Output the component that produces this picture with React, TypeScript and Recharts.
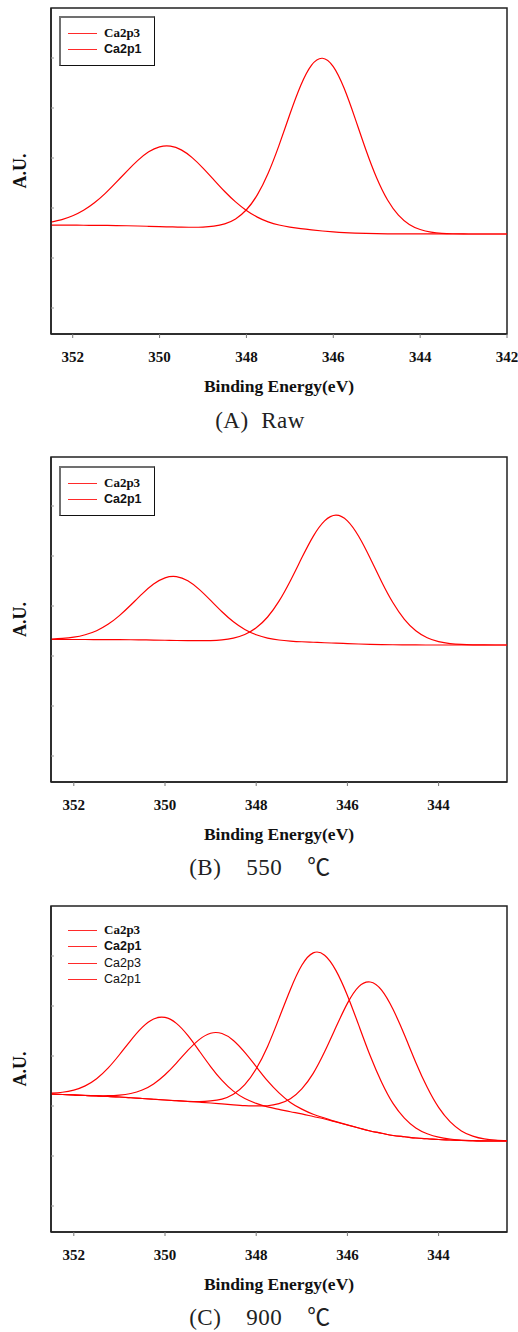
import React from "react";
import { LineChart, Line, XAxis, YAxis, Legend, ReferenceArea } from "recharts";

// binding energy grid (eV), left to right as plotted
const ENERGY_RAW = [
  352.5, 352.25, 352, 351.75, 351.5, 351.25, 351, 350.75, 350.5, 350.25, 350,
  349.75, 349.5, 349.25, 349, 348.75, 348.5, 348.25, 348, 347.75, 347.5,
  347.25, 347, 346.75, 346.5, 346.25, 346, 345.75, 345.5, 345.25, 345, 344.75,
  344.5, 344.25, 344, 343.75, 343.5, 343.25, 343, 342.75, 342.5, 342.25, 342,
];
const ENERGY_HEATED = [
  352.5, 352.25, 352, 351.75, 351.5, 351.25, 351, 350.75, 350.5, 350.25, 350,
  349.75, 349.5, 349.25, 349, 348.75, 348.5, 348.25, 348, 347.75, 347.5,
  347.25, 347, 346.75, 346.5, 346.25, 346, 345.75, 345.5, 345.25, 345, 344.75,
  344.5, 344.25, 344, 343.75, 343.5, 343.25, 343, 342.75, 342.5,
];

// (A) raw
const RAW_CA2P3 = [
  1657, 1657, 1656, 1655, 1653, 1651, 1649, 1645, 1640, 1634, 1628, 1622, 1616,
  1615, 1619, 1637, 1683, 1782, 1965, 2262, 2695, 3253, 3874, 4449, 4857, 4995,
  4827, 4393, 3797, 3165, 2600, 2160, 1858, 1672, 1570, 1518, 1494, 1485, 1481,
  1480, 1480, 1480, 1480,
];
const RAW_CA2P1 = [
  1719, 1768, 1844, 1954, 2104, 2292, 2511, 2739, 2953, 3124, 3224, 3238, 3162,
  3008, 2799, 2564, 2330, 2122, 1951, 1818, 1723, 1660, 1618, 1586, 1561, 1540,
  1522, 1507, 1497, 1491, 1487, 1484, 1483, 1482, 1482, 1481, 1480, 1480, 1480,
  1480, 1480, 1480, 1480,
];

// (B) 550 C
const T550_CA2P3 = [
  2330, 2330, 2330, 2330, 2329, 2328, 2327, 2325, 2322, 2319, 2315, 2310, 2307,
  2306, 2309, 2323, 2358, 2430, 2563, 2780, 3097, 3506, 3963, 4393, 4702, 4817,
  4703, 4390, 3955, 3486, 3064, 2734, 2505, 2365, 2287, 2248, 2231, 2224, 2221,
  2220, 2220,
];
const T550_CA2P1 = [
  2339, 2351, 2376, 2425, 2506, 2633, 2807, 3019, 3243, 3438, 3563, 3587, 3504,
  3332, 3112, 2885, 2685, 2532, 2426, 2359, 2320, 2299, 2285, 2275, 2265, 2257,
  2248, 2240, 2234, 2229, 2225, 2223, 2221, 2220, 2220, 2220, 2220, 2220, 2220,
  2220, 2220,
];

// (C) 900 C, two doublets
const T900_CA2P3_1 = [
  2240, 2230, 2220, 2210, 2200, 2190, 2180, 2165, 2150, 2135, 2120, 2107, 2095,
  2090, 2102, 2139, 2236, 2426, 2744, 3192, 3752, 4331, 4814, 5063, 5016, 4708,
  4211, 3612, 3005, 2476, 2052, 1759, 1561, 1445, 1376, 1340, 1318, 1308, 1301,
  1300, 1300,
];
const T900_CA2P1_1 = [
  2259, 2275, 2318, 2403, 2546, 2757, 3025, 3314, 3573, 3741, 3771, 3652, 3411,
  3103, 2789, 2511, 2297, 2149, 2053, 1982, 1933, 1885, 1842, 1790, 1740, 1680,
  1620, 1560, 1500, 1455, 1410, 1385, 1360, 1345, 1330, 1320, 1310, 1305, 1300,
  1300, 1300,
];
const T900_CA2P3_2 = [
  2240, 2230, 2220, 2210, 2200, 2190, 2180, 2165, 2150, 2135, 2120, 2105, 2090,
  2075, 2060, 2041, 2023, 2008, 2002, 2005, 2047, 2145, 2342, 2652, 3083, 3578,
  4052, 4387, 4480, 4318, 3934, 3425, 2872, 2373, 1971, 1687, 1502, 1397, 1341,
  1317, 1306,
];
const T900_CA2P1_2 = [
  2240, 2230, 2221, 2212, 2206, 2206, 2218, 2250, 2319, 2442, 2625, 2859, 3111,
  3328, 3455, 3449, 3310, 3072, 2788, 2502, 2262, 2072, 1938, 1835, 1759, 1687,
  1622, 1560, 1500, 1455, 1410, 1385, 1360, 1345, 1330, 1320, 1310, 1305, 1300,
  1300, 1300,
];

const X_TICKS_RAW = [352, 350, 348, 346, 344, 342];
const X_TICKS_HEATED = [352, 350, 348, 346, 344];
const Y_TICKS = [0, 1000, 2000, 3000, 4000, 5000];

const LEGEND_TWO = ["Ca2p3", "Ca2p1"];
const LEGEND_FOUR = ["Ca2p3", "Ca2p1", "Ca2p3", "Ca2p1"];
const CAPTIONS = ["(A)  Raw", "(B)    550    \u2103", "(C)    900    \u2103"];

const SERIF = '"Liberation Serif", "Times New Roman", serif';
const SANS = '"Liberation Sans", Arial, sans-serif';
const LABEL_FONTS = [
  { fontFamily: SERIF, fontWeight: 700, fontSize: 13 },
  { fontFamily: SANS, fontWeight: 700, fontSize: 12.5 },
  { fontFamily: SANS, fontWeight: 400, fontSize: 12.5 },
  { fontFamily: SANS, fontWeight: 400, fontSize: 12.5 },
];

function buildRows(energy: number[], series: number[][]) {
  return energy.map((e, i) => {
    const row: Record<string, number> = { e };
    series.forEach((s, k) => {
      row["s" + k] = s[i];
    });
    return row;
  });
}

const NoTick = () => null;

function LegendBox({ labels, boxed }: { labels: string[]; boxed: boolean }) {
  const box = boxed
    ? {
        width: 92.5,
        borderTop: "2px solid #707070",
        borderLeft: "2px solid #707070",
        borderRight: "1.5px solid #111",
        borderBottom: "1.5px solid #111",
        padding: "6.75px 0",
        background: "#fff",
      }
    : {};
  return (
    <div style={box}>
      {labels.map((l, i) => (
        <div key={i} style={{ height: 16.5, display: "flex", alignItems: "center" }}>
          <span
            style={{
              display: "inline-block",
              marginLeft: boxed ? 7 : 9,
              width: 29,
              height: 0,
              borderTop: "1.3px solid #ff2a2a",
            }}
          />
          <span
            style={{
              marginLeft: 7,
              lineHeight: "16.5px",
              color: "#111",
              ...LABEL_FONTS[i],
            }}
          >
            {l}
          </span>
        </div>
      ))}
    </div>
  );
}

type PanelProps = {
  top: number;
  height: number;
  energy: number[];
  series: number[][];
  xDomain: [number, number];
  xTicks: number[];
  yDomain: [number, number];
  legend: string[];
  boxed: boolean;
  legendTop: number;
  caption: string;
  captionY: number;
};

function Panel(p: PanelProps) {
  const rows = buildRows(p.energy, p.series);
  return (
    <>
      <div style={{ position: "absolute", left: 0, top: p.top }}>
        <LineChart
          width={518}
          height={p.height}
          data={rows}
          margin={{ top: 8, right: 11, bottom: 0, left: 0 }}
        >
          <XAxis
            dataKey="e"
            type="number"
            domain={p.xDomain}
            ticks={p.xTicks}
            interval={0}
            reversed
            allowDataOverflow
            height={66}
            tickSize={4}
            tickMargin={13}
            tick={{ fontSize: 15, fontFamily: SERIF, fontWeight: 700, fill: "#111" }}
            tickLine={{ stroke: "#777" }}
            axisLine={{ stroke: "#222", strokeWidth: 1.5 }}
            label={{
              value: "Binding Energy(eV)",
              position: "insideBottom",
              offset: 8.5,
              style: { fontSize: 17.5, fontFamily: SERIF, fontWeight: 700, fill: "#111" },
            }}
          />
          <YAxis
            type="number"
            domain={p.yDomain}
            ticks={Y_TICKS}
            interval={0}
            allowDataOverflow
            width={51}
            tickSize={-3}
            tick={NoTick}
            tickLine={{ stroke: "#999" }}
            axisLine={{ stroke: "#222", strokeWidth: 1.5 }}
            label={{
              value: "A.U.",
              angle: -90,
              position: "insideLeft",
              offset: 19.5,
              style: {
                textAnchor: "middle",
                fontSize: 18,
                fontFamily: SERIF,
                fontWeight: 700,
                fill: "#111",
              },
            }}
          />
          {p.series.map((_, k) => (
            <Line
              key={k}
              dataKey={"s" + k}
              type="natural"
              stroke="#ff0000"
              strokeWidth={1.2}
              dot={false}
              activeDot={false}
              isAnimationActive={false}
            />
          ))}
          <ReferenceArea
            x1={p.xDomain[0]}
            x2={p.xDomain[1]}
            y1={p.yDomain[0]}
            y2={p.yDomain[1]}
            fill="none"
            stroke="#222"
            strokeWidth={1.5}
          />
          <Legend
            layout="vertical"
            align="center"
            verticalAlign="middle"
            wrapperStyle={{ left: 59, top: p.legendTop }}
            content={() => <LegendBox labels={p.legend} boxed={p.boxed} />}
          />
        </LineChart>
      </div>
      <div
        style={{
          position: "absolute",
          left: 0,
          width: 520,
          top: p.captionY - 12,
          height: 24,
          lineHeight: "24px",
          textAlign: "center",
          whiteSpace: "pre",
          fontFamily: '"Liberation Serif", "Noto Sans CJK KR", serif',
          fontSize: 23,
          letterSpacing: 0.5,
          color: "#222",
        }}
      >
        {p.caption}
      </div>
    </>
  );
}

export default function App() {
  return (
    <div
      style={{
        position: "absolute",
        left: 0,
        top: 0,
        width: 518,
        height: 1332,
        background: "#fff",
        overflow: "hidden",
        fontFamily: SERIF,
      }}
    >
      <Panel
        top={0}
        height={400}
        energy={ENERGY_RAW}
        series={[RAW_CA2P3, RAW_CA2P1]}
        xDomain={[342, 352.5]}
        xTicks={X_TICKS_RAW}
        yDomain={[-520, 6000]}
        legend={LEGEND_TWO}
        boxed
        legendTop={16}
        caption={CAPTIONS[0]}
        captionY={421}
      />
      <Panel
        top={449}
        height={399}
        energy={ENERGY_HEATED}
        series={[T550_CA2P3, T550_CA2P1]}
        xDomain={[342.5, 352.5]}
        xTicks={X_TICKS_HEATED}
        yDomain={[-520, 5980]}
        legend={LEGEND_TWO}
        boxed
        legendTop={17}
        caption={CAPTIONS[1]}
        captionY={867.5}
      />
      <Panel
        top={898}
        height={400}
        energy={ENERGY_HEATED}
        series={[T900_CA2P3_1, T900_CA2P1_1, T900_CA2P3_2, T900_CA2P1_2]}
        xDomain={[342.5, 352.5]}
        xTicks={X_TICKS_HEATED}
        yDomain={[-520, 6000]}
        legend={LEGEND_FOUR}
        boxed={false}
        legendTop={23.8}
        caption={CAPTIONS[2]}
        captionY={1318}
      />
    </div>
  );
}
